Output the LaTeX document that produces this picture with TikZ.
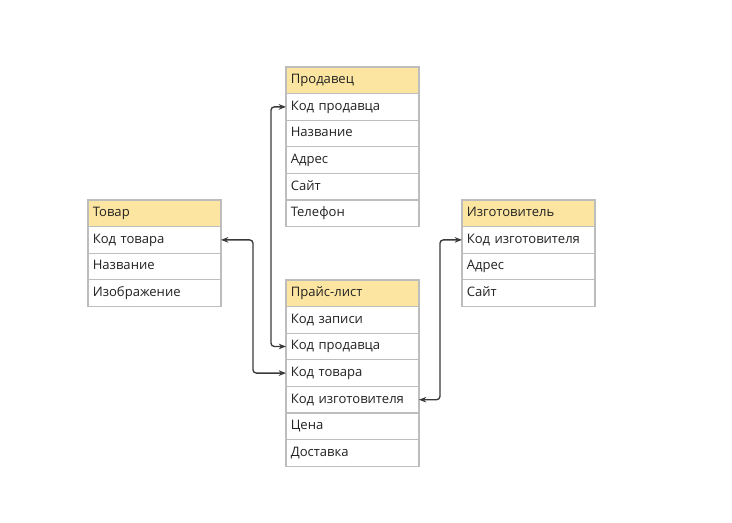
\documentclass[tikz,border=0pt]{standalone}
\usepackage{fontspec}
\setmainfont{Open Sans}
\usetikzlibrary{arrows.meta,positioning}
\definecolor{hdr}{HTML}{FCE5A0}
\definecolor{brd}{HTML}{BDBDBD}
\definecolor{txt}{HTML}{222222}
\definecolor{lnk}{HTML}{3A3A3A}
\tikzset{
  cell/.style={draw=brd, line width=0.8pt, rectangle, anchor=north west, outer sep=0pt,
    minimum width=99.75pt, minimum height=19.95pt, inner xsep=3.5pt, inner ysep=0pt,
    text width=92.5pt, align=left, text=txt, font=\fontsize{9.8}{11}\selectfont,
    text height=7.3pt, text depth=2.2pt, fill=white},
  hcell/.style={cell, fill=hdr},
  conn/.style={draw=lnk, line width=1pt, rounded corners=2.5pt,
    {Stealth[length=5.5pt,width=4.2pt]}-{Stealth[length=5.5pt,width=4.2pt]}}
}
\begin{document}
\begin{tikzpicture}[x=0.75pt,y=-0.75pt]
\useasboundingbox (0,0) rectangle (732,523);
% Продавец
\node[hcell] (s0) at (286,67) {Продавец};
\node[cell] (s1) at (286,93.6) {Код продавца};
\node[cell] (s2) at (286,120.2) {Название};
\node[cell] (s3) at (286,146.8) {Адрес};
\node[cell] (s4) at (286,173.4) {Сайт};
\node[cell] (s5) at (286,200) {Телефон};
% Товар
\node[hcell] (t0) at (88,200) {Товар};
\node[cell] (t1) at (88,226.6) {Код товара};
\node[cell] (t2) at (88,253.2) {Название};
\node[cell] (t3) at (88,279.8) {Изображение};
% Изготовитель
\node[hcell] (m0) at (462,200) {Изготовитель};
\node[cell] (m1) at (462,226.6) {Код изготовителя};
\node[cell] (m2) at (462,253.2) {Адрес};
\node[cell] (m3) at (462,279.8) {Сайт};
% Прайс-лист
\node[hcell] (p0) at (286,280) {Прайс-лист};
\node[cell] (p1) at (286,306.6) {Код записи};
\node[cell] (p2) at (286,333.2) {Код продавца};
\node[cell] (p3) at (286,359.8) {Код товара};
\node[cell] (p4) at (286,386.4) {Код изготовителя};
\node[cell] (p5) at (286,413) {Цена};
\node[cell] (p6) at (286,439.6) {Доставка};
% connectors
\draw[conn] (p2.west) -- ++(-15,0) |- (s1.west);
\draw[conn] (t1.east) -- ++(32,0) |- (p3.west);
\draw[conn] (p4.east) -- ++(21,0) |- (m1.west);
\end{tikzpicture}
\end{document}
